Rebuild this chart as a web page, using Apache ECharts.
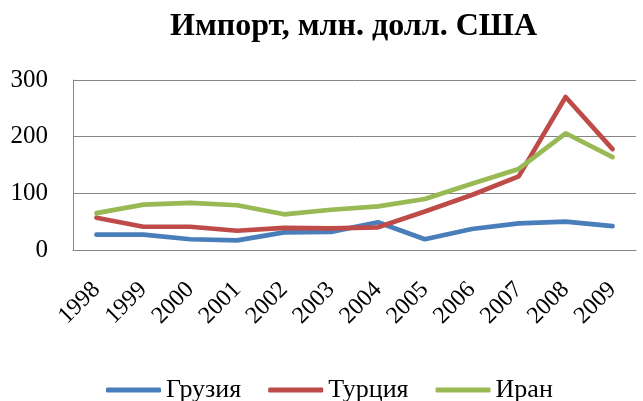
<!DOCTYPE html>
<html>
<head>
<meta charset="utf-8">
<script src="https://cdn.jsdelivr.net/npm/echarts@6/dist/echarts.min.js"></script>
<style>html,body{margin:0;padding:0;background:#fff;}#c{width:643px;height:401px;}</style>
</head>
<body>
<div id="c"></div>
<script>
var categories = ['1998','1999','2000','2001','2002','2003','2004','2005','2006','2007','2008','2009'];
var georgia = [27, 27, 19, 17, 31, 32, 49, 19, 37, 47, 50, 42];
var turkey  = [57, 41, 41, 34, 39, 38, 40, 68, 97, 130, 270, 178];
var iran    = [65, 80, 83, 79, 63, 71, 77, 90, 117, 143, 206, 164];
var seriesNames = ['Грузия', 'Турция', 'Иран'];
var yTicks = { min: 0, max: 300, interval: 100 };

var font = 'Liberation Serif, Times New Roman, serif';
var chart = echarts.init(document.getElementById('c'), null, {renderer: 'canvas'});
function line(name, data, color) {
  return {
    name: name, type: 'line', data: data, symbol: 'none', smooth: false,
    lineStyle: { color: color, width: 4.7, cap: 'round', join: 'round' },
    itemStyle: { color: color }
  };
}
chart.setOption({
  animation: false,
  title: {
    text: 'Импорт, млн. долл. США',
    left: 165, top: 6,
    textStyle: { fontFamily: font, fontSize: 32, fontWeight: 'bold', color: '#000' }
  },
  legend: {
    left: 101, top: 372,
    icon: 'roundRect', itemWidth: 55, itemHeight: 5, itemGap: 27,
    textStyle: { fontFamily: font, fontSize: 26, color: '#000' },
    data: seriesNames
  },
  grid: { left: 73, right: 7, top: 80, bottom: 151, containLabel: false, outerBoundsMode: 'none' },
  xAxis: {
    type: 'category', data: categories, boundaryGap: true,
    axisLine: { show: true, lineStyle: { color: '#868686', width: 1 } },
    axisTick: { show: false },
    axisLabel: { rotate: 45, margin: 36, fontFamily: font, fontSize: 24, color: '#000', interval: 0 },
    splitLine: { show: false }
  },
  yAxis: {
    type: 'value', min: yTicks.min, max: yTicks.max, interval: yTicks.interval,
    axisLine: { show: true, lineStyle: { color: '#868686', width: 1 } },
    axisTick: { show: false },
    axisLabel: { margin: 25, fontFamily: font, fontSize: 25, color: '#000' },
    splitLine: { show: true, lineStyle: { color: '#868686', width: 1 } }
  },
  series: [
    line(seriesNames[0], georgia, '#4A7EBB'),
    line(seriesNames[1], turkey, '#BE4B48'),
    line(seriesNames[2], iran, '#98B954')
  ]
});
</script>
</body>
</html>
